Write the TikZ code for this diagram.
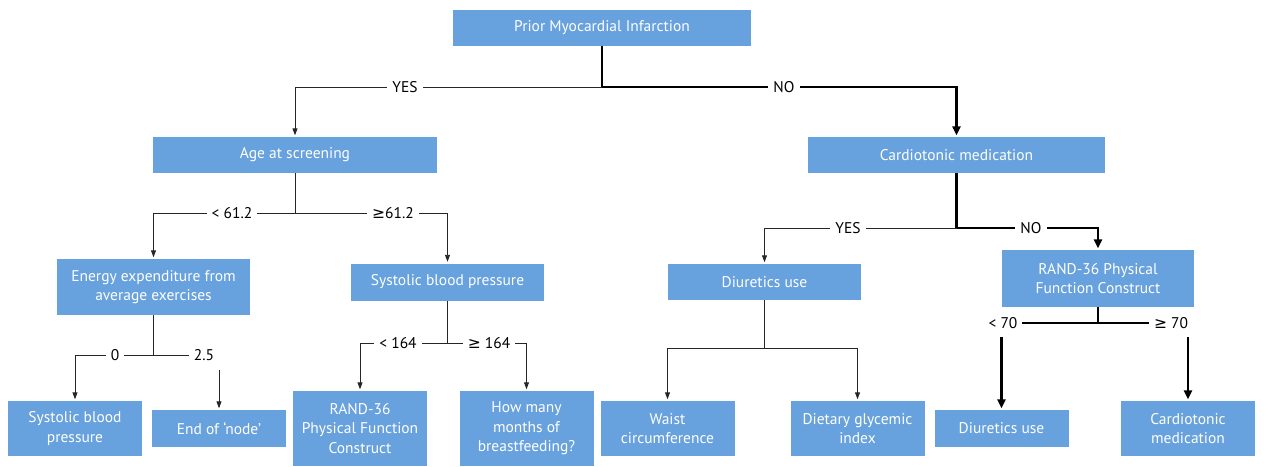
\documentclass[tikz,border=0pt]{standalone}
\usepackage{fontspec}
\setmainfont{PT Sans}
\newfontfamily\sym{DejaVu Sans}
\usetikzlibrary{arrows.meta}
\definecolor{boxblue}{RGB}{103,161,222}
\begin{document}
\begin{tikzpicture}[x=1pt,y=-1pt,
  box/.style={fill=boxblue, text=white, align=center, inner sep=0pt, font=\fontsize{15.5}{19.5}\selectfont},
  lab/.style={fill=white, inner xsep=5pt, inner ysep=2pt, font=\fontsize{15.5}{18}\selectfont},
  thinln/.style={line width=0.9pt, draw=black!85},
  thickln/.style={line width=2.6pt, draw=black},
  thinarr/.style={thinln, -{Triangle[length=7pt,width=5pt]}, shorten >=1.5pt},
  thickarr/.style={thickln, -{Triangle[length=9pt,width=8pt]}, shorten >=1.5pt}]
\useasboundingbox (0,0) rectangle (1265,466);
% boxes
\node[box, minimum width=298, minimum height=36] (root) at (602,28) {Prior Myocardial Infarction};
\node[box, minimum width=284, minimum height=36] (age) at (295,155) {Age at screening};
\node[box, minimum width=297, minimum height=36] (card) at (956.5,155) {Cardiotonic medication};
\node[box, minimum width=193, minimum height=56] (energy) at (153.5,287) {Energy expenditure from\\average exercises};
\node[box, minimum width=193, minimum height=37] (sbp) at (447.5,282) {Systolic blood pressure};
\node[box, minimum width=193, minimum height=36] (diu) at (764.5,282) {Diuretics use};
\node[box, minimum width=192, minimum height=57] (rand) at (1098,278.5) {RAND-36 Physical\\Function Construct};
\node[box, minimum width=134, minimum height=55] (sbp2) at (75,428.5) {Systolic blood\\pressure};
\node[box, minimum width=134, minimum height=37] (end) at (219,428.5) {End of ‘node’};
\node[box, minimum width=134, minimum height=75] (rand2) at (360,428.5) {RAND-36\\Physical Function\\Construct};
\node[box, minimum width=134, minimum height=75] (months) at (526.5,428.5) {How many\\months of\\breastfeeding?};
\node[box, minimum width=134, minimum height=55] (waist) at (667.5,428.5) {Waist\\circumference};
\node[box, minimum width=134, minimum height=55] (diet) at (857.5,428.5) {Dietary glycemic\\index};
\node[box, minimum width=134, minimum height=37] (diu2) at (1001.5,428.5) {Diuretics use};
\node[box, minimum width=134, minimum height=55] (card2) at (1188,428.5) {Cardiotonic\\medication};
% junctions
\coordinate (j1) at (602,87);
\coordinate (j2) at (295,213);
\coordinate (j3) at (153.5,355);
\coordinate (j4) at (447.5,343);
\coordinate (j5) at (956.5,228);
\coordinate (j6) at (764.5,348);
\coordinate (j7) at (1098,323);
\coordinate (e1) at (219,370);
\coordinate (a1) at (1001.5,337);
\coordinate (a2) at (1188,337);
\coordinate (t25) at (204,355);
\coordinate (tl70) at (1003,323);
\coordinate (tg70) at (1171,323);
% connectors
\draw[thinarr] (j1) -| (age.north);
\draw[thickarr] (j1) -| (card.north);
\draw[thickln] (root.south) -- (j1);
\draw[thinln] (age.south) -- (j2);
\draw[thinarr] (j2) -| (energy.north);
\draw[thinarr] (j2) -| (sbp.north);
\draw[thinln] (energy.south) -- (j3);
\draw[thinarr] (j3) -| (sbp2.north);
\draw[thinln] (j3) -- (t25);
\draw[thinarr] (e1) -- (end.north);
\draw[thinln] (sbp.south) -- (j4);
\draw[thinarr] (j4) -| (rand2.north);
\draw[thinarr] (j4) -| (months.north);
\draw[thinarr] (j5) -| (diu.north);
\draw[thickarr] (j5) -| (rand.north);
\draw[thickln] (card.south) -- (j5);
\draw[thinln] (diu.south) -- (j6);
\draw[thinarr] (j6) -| (waist.north);
\draw[thinarr] (j6) -| (diet.north);
\draw[thickln] (rand.south) -- (j7);
\draw[thickln] (tl70) -- (tg70);
\draw[thickarr] (a1) -- (diu2.north);
\draw[thickarr] (a2) -- (card2.north);
% labels
\node[lab] (lyes1) at (405,87) {YES};
\node[lab] (lno1) at (784,87) {NO};
\node[lab] (llt61) at (232,213) {< 61.2};
\node[lab] (lge61) at (393,213) {{\sym ≥}61.2};
\node[lab] (l0) at (115,355) {0};
\node[lab] (l25) at (t25) {2.5};
\node[lab] (llt164) at (398,343) {< 164};
\node[lab] (lge164) at (489,343) {{\sym ≥} 164};
\node[lab] (lyes2) at (848,228) {YES};
\node[lab] (lno2) at (1031,228) {NO};
\node[lab] (llt70) at (tl70) {< 70};
\node[lab] (lge70) at (tg70) {{\sym ≥} 70};
\end{tikzpicture}
\end{document}
